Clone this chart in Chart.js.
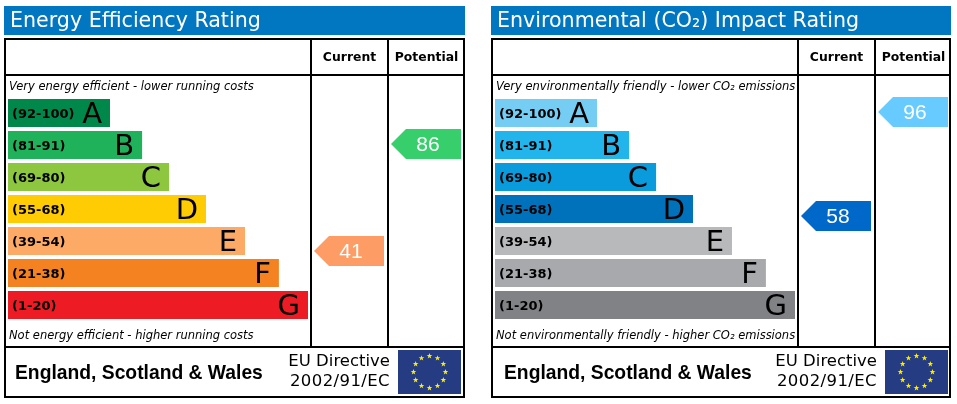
<!DOCTYPE html>
<html>
<head>
<meta charset="utf-8">
<style>
  html, body { margin: 0; padding: 0; background: #fff; overflow: hidden; }
  canvas { position: absolute; top: 0; }
  #energyChart { left: 0; }
  #envChart { left: 487px; }
</style>
<script src="https://cdn.jsdelivr.net/npm/chart.js@4"></script>
</head>
<body>
<canvas id="energyChart" width="470" height="404"></canvas>
<canvas id="envChart" width="470" height="404"></canvas>
<script>
const bandLabels = ['(92-100)', '(81-91)', '(69-80)', '(55-68)', '(39-54)', '(21-38)', '(1-20)'];
const bandLetters = ['A', 'B', 'C', 'D', 'E', 'F', 'G'];
const bandLow = [92, 81, 69, 55, 39, 21, 1];
const bandHigh = [100, 91, 80, 68, 54, 38, 20];
const barLengths = [34, 44.7, 53.7, 66, 79, 90.3, 100];

const energyColors = ['#00874a', '#1fb25a', '#8dc63f', '#ffcc04', '#fcaa65', '#f58220', '#ed1c24'];
const envColors = ['#75cdf3', '#22b5ec', '#0a9bdc', '#0072bc', '#b7b9bb', '#a7a9ac', '#808285'];

const energyCurrent = 41;
const energyPotential = 86;
const energyCurrentColor = '#fd9c65';
const energyPotentialColor = '#37cf6c';

const envCurrent = 58;
const envPotential = 96;
const envCurrentColor = '#0068c9';
const envPotentialColor = '#67cbff';

const columnHeaders = ['Current', 'Potential'];
const footerRegion = 'England, Scotland & Wales';
const footerDirective = ['EU Directive', '2002/91/EC'];

// position on the band axis: inside its band, a score sits above or below the middle
function scoreToBand(score) {
    const i = bandLow.findIndex((low, n) => score >= low && score <= bandHigh[n]);
    return i + ((bandLow[i] + bandHigh[i]) / 2 - score) / (bandHigh[i] - bandLow[i] + 1);
}

function drawPointer(ctx, yScale, right, score, color) {
    const y = Math.round(yScale.getPixelForValue(scoreToBand(score))) - 1;
    ctx.fillStyle = color;
    ctx.beginPath();
    ctx.moveTo(right - 70, y);
    ctx.lineTo(right - 55, y - 15);
    ctx.lineTo(right, y - 15);
    ctx.lineTo(right, y + 15);
    ctx.lineTo(right - 55, y + 15);
    ctx.closePath();
    ctx.fill();
    ctx.fillStyle = '#fff';
    ctx.font = '21px "Liberation Sans"';
    ctx.textAlign = 'center';
    ctx.textBaseline = 'middle';
    ctx.fillText(String(score), right - 33, y + 1);
}

function drawStar(ctx, cx, cy, r) {
    ctx.beginPath();
    for (let i = 0; i < 10; i++) {
        const a = -Math.PI / 2 + i * Math.PI / 5;
        const d = i % 2 ? r * 0.4 : r;
        ctx.lineTo(cx + d * Math.cos(a), cy + d * Math.sin(a));
    }
    ctx.closePath();
    ctx.fill();
}

function drawFlag(ctx) {
    ctx.fillStyle = '#253c83';
    ctx.fillRect(398, 350, 63, 44);
    ctx.fillStyle = '#ffed00';
    for (let i = 0; i < 12; i++) {
        const a = i * Math.PI / 6;
        drawStar(ctx, 429.5 + 16 * Math.sin(a), 372 - 16 * Math.cos(a), 3);
    }
}

// everything around the bars: title strip, frame, notes, letters, pointers, footer
function ratingPlugin(cfg) {
    return {
        id: 'ratingPanel',
        beforeDraw(chart) {
            const ctx = chart.ctx;
            const left = cfg.frameLeft;
            const right = cfg.frameRight;
            ctx.save();
            ctx.fillStyle = '#0077c0';
            ctx.fillRect(left, 6, right - left, 29);
            ctx.fillStyle = '#000';
            ctx.fillRect(left, 38, right - left, 2);
            ctx.fillRect(left, 74, right - left, 2);
            ctx.fillRect(left, 346, right - left, 2);
            ctx.fillRect(left, 396, right - left, 2);
            ctx.fillRect(left, 38, 2, 360);
            ctx.fillRect(right - 2, 38, 2, 360);
            ctx.fillRect(310, 38, 2, 310);
            ctx.fillRect(387, 38, 2, 310);
            ctx.restore();
        },
        afterDraw(chart) {
            const ctx = chart.ctx;
            const yScale = chart.scales.y;
            const xScale = chart.scales.x;
            ctx.save();
            ctx.textBaseline = 'middle';

            ctx.fillStyle = '#fff';
            ctx.textAlign = 'left';
            ctx.font = '20.6px "DejaVu Sans"';
            ctx.fillText(cfg.title, 10, 22);

            ctx.fillStyle = '#000';
            ctx.textAlign = 'center';
            ctx.font = 'bold 12.4px "DejaVu Sans"';
            ctx.fillText(columnHeaders[0], 349.5, 58);
            ctx.fillText(columnHeaders[1], 426.5, 58);

            ctx.textAlign = 'left';
            ctx.font = 'italic 11.5px "DejaVu Sans"';
            ctx.fillText(cfg.topNote, 9, 87);
            ctx.fillText(cfg.bottomNote, 9, 336);

            ctx.textAlign = 'right';
            ctx.font = '29px "DejaVu Sans"';
            bandLetters.forEach((letter, i) => {
                ctx.fillText(letter, xScale.getPixelForValue(barLengths[i]) - 8, yScale.getPixelForValue(i) + 2);
            });

            drawPointer(ctx, yScale, 384, cfg.current, cfg.currentColor);
            drawPointer(ctx, yScale, 461, cfg.potential, cfg.potentialColor);

            ctx.fillStyle = '#000';
            ctx.textAlign = 'left';
            ctx.font = 'bold 19.3px "Liberation Sans"';
            ctx.fillText(footerRegion, cfg.footerX, 374);
            ctx.textAlign = 'right';
            ctx.font = '16.5px "DejaVu Sans"';
            ctx.fillText(footerDirective[0], 390, 362);
            ctx.letterSpacing = '0.4px';
            ctx.fillText(footerDirective[1], 390, 382);
            ctx.letterSpacing = '0px';
            drawFlag(ctx);
            ctx.restore();
        }
    };
}

function renderRatingChart(canvasId, colors, cfg) {
    const ctx = document.getElementById(canvasId).getContext('2d');

    new Chart(ctx, {
        type: 'bar',
        data: {
            labels: bandLabels,
            datasets: [{
                data: barLengths,
                backgroundColor: colors,
                barPercentage: 0.875,
                categoryPercentage: 1
            }]
        },
        options: {
            indexAxis: 'y',
            responsive: false,
            animation: false,
            layout: { padding: { left: 8, right: 162, top: 97, bottom: 83 } },
            plugins: {
                legend: { display: false },
                title: { display: false },
                tooltip: { enabled: false }
            },
            scales: {
                x: { display: false, min: 0, max: 100 },
                y: {
                    afterFit(scale) { scale.width = 0; },
                    grid: { display: false },
                    border: { display: false },
                    ticks: {
                        z: 1,
                        mirror: true,
                        padding: 4,
                        labelOffset: 2,
                        autoSkip: false,
                        color: '#000',
                        font: { family: '"DejaVu Sans"', size: 13, weight: 'bold' }
                    }
                }
            }
        },
        plugins: [ratingPlugin(cfg)]
    });
}

renderRatingChart('energyChart', energyColors, {
    title: 'Energy Efficiency Rating',
    frameLeft: 4,
    frameRight: 465,
    footerX: 15,
    topNote: 'Very energy efficient - lower running costs',
    bottomNote: 'Not energy efficient - higher running costs',
    current: energyCurrent,
    currentColor: energyCurrentColor,
    potential: energyPotential,
    potentialColor: energyPotentialColor
});

renderRatingChart('envChart', envColors, {
    title: 'Environmental (CO₂) Impact Rating',
    frameLeft: 4,
    frameRight: 464,
    footerX: 17,
    topNote: 'Very environmentally friendly - lower CO₂ emissions',
    bottomNote: 'Not environmentally friendly - higher CO₂ emissions',
    current: envCurrent,
    currentColor: envCurrentColor,
    potential: envPotential,
    potentialColor: envPotentialColor
});
</script>
</body>
</html>
